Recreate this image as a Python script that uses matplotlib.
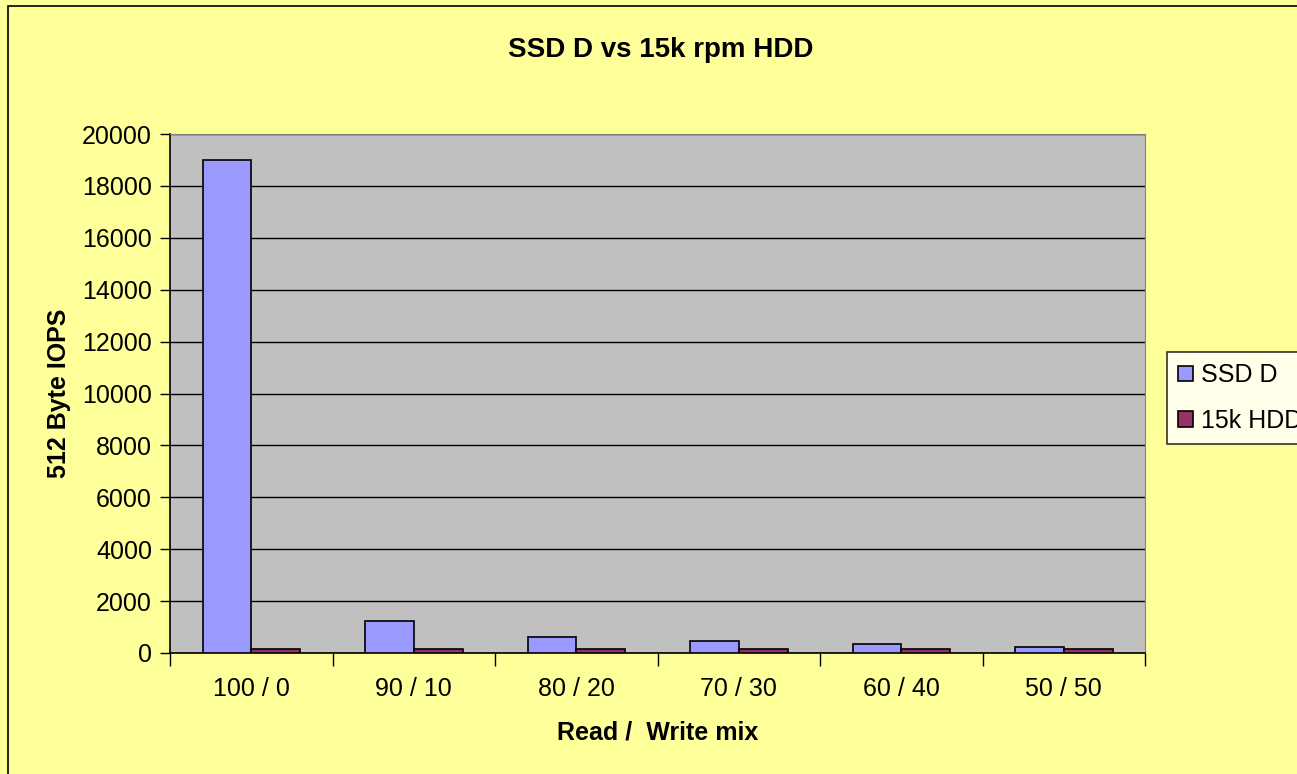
import numpy as np
import matplotlib.pyplot as plt
from matplotlib.patches import Rectangle

plt.rcParams['font.family'] = ['Liberation Sans', 'DejaVu Sans']

mixes = ['100 / 0', '90 / 10', '80 / 20', '70 / 30', '60 / 40', '50 / 50']
ssd_iops = [19000, 1220, 600, 450, 335, 220]
hdd_iops = [165, 165, 165, 165, 165, 165]
y_ticks = list(range(0, 20001, 2000))

W, H = 1297, 774
fig = plt.figure(figsize=(W / 100, H / 100), dpi=100)
fig.patch.set_facecolor('#FFFF99')
fig.patches.append(Rectangle((8 / W, -0.01), 1.1, 1 - 6 / H + 0.01, transform=fig.transFigure,
                             fill=False, edgecolor='black', linewidth=1.2, zorder=10))

ax = fig.add_axes([170 / W, 1 - 653 / H, 975 / W, 519 / H])
ax.set_facecolor('#C0C0C0')

x = np.arange(len(mixes))
bw = 0.3
ax.bar(x - bw / 2, ssd_iops, bw, color='#9999FF', edgecolor='black', linewidth=1.2,
       label='SSD D', zorder=3)
ax.bar(x + bw / 2, hdd_iops, bw, color='#993366', edgecolor='black', linewidth=1.2,
       label='15k HDD', zorder=3)

ax.set_xlim(-0.5, len(mixes) - 0.5)
ax.set_ylim(0, 20000)
ax.set_yticks(y_ticks)
ax.set_yticklabels([str(v) for v in y_ticks], fontsize=18)
ax.yaxis.grid(True, color='black', linewidth=1)
ax.set_axisbelow(True)

ax.set_xticks(np.arange(len(mixes) + 1) - 0.5)
ax.set_xticklabels([])
ax.set_xticks(x, minor=True)
ax.set_xticklabels(mixes, minor=True, fontsize=18)
ax.tick_params(axis='x', which='major', direction='out', length=9, width=1)
ax.tick_params(axis='x', which='minor', length=0, pad=17)
ax.tick_params(axis='y', direction='out', length=7, width=1, pad=6)

for s in ['top', 'right']:
    ax.spines[s].set_color('#808080')
for s in ['left', 'bottom']:
    ax.spines[s].set_color('black')
    ax.spines[s].set_linewidth(1.2)

ax.set_xlabel('Read /  Write mix', fontsize=18, fontweight='bold', labelpad=14)
ax.set_ylabel('512 Byte IOPS', fontsize=18, fontweight='bold', labelpad=8)
fig.text(661 / W, 1 - 50 / H, 'SSD D vs 15k rpm HDD', fontsize=20, fontweight='bold',
         ha='center', va='center')

leg = ax.legend(loc='upper left', bbox_to_anchor=(1167 / W, 1 - 352 / H),
                bbox_transform=fig.transFigure, fontsize=18, frameon=True, fancybox=False,
                handlelength=0.6, handleheight=0.6, handletextpad=0.3, borderpad=0.45,
                labelspacing=0.85, borderaxespad=0)
leg.get_frame().set_edgecolor('black')
leg.get_frame().set_linewidth(1.2)

fig.savefig('out.png', dpi=100, facecolor=fig.get_facecolor())
